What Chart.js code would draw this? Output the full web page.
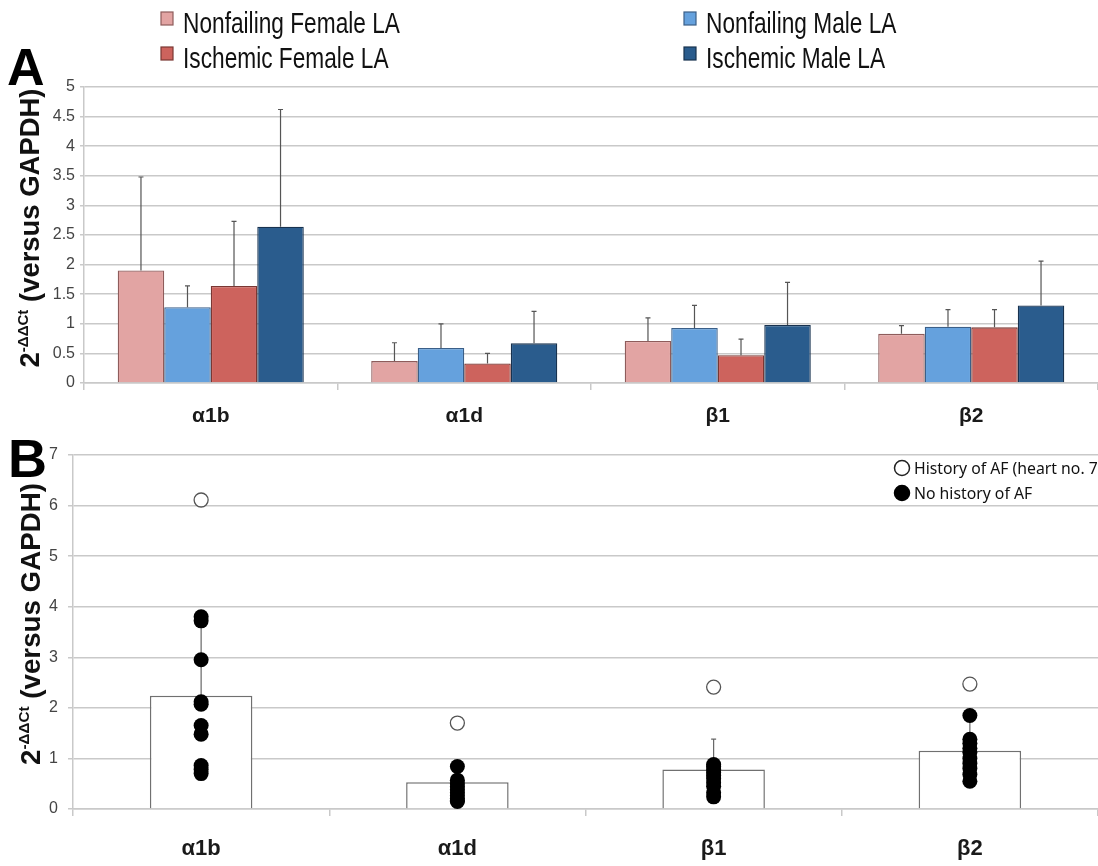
<!DOCTYPE html>
<html><head><meta charset="utf-8">
<script src="https://cdn.jsdelivr.net/npm/chart.js@4.4.0/dist/chart.umd.min.js"></script>
<style>
html,body{margin:0;padding:0;background:#fff;width:1098px;height:866px;overflow:hidden}
.box{position:absolute;left:0;width:1098px}
</style></head><body>
<div class="box" style="top:0;height:430px"><canvas id="a"></canvas></div>
<div class="box" style="top:430px;height:436px"><canvas id="b"></canvas></div>
<script>
// ---------- DATA ----------
const categories = ['α1b', 'α1d', 'β1', 'β2'];
const seriesNames = ['Nonfailing Female LA', 'Nonfailing Male LA', 'Ischemic Female LA', 'Ischemic Male LA'];
const nfFemaleMean = [1.90, 0.37, 0.71, 0.83];
const nfFemaleSD   = [1.58, 0.31, 0.39, 0.14];
const nfMaleMean   = [1.28, 0.59, 0.93, 0.95];
const nfMaleSD     = [0.36, 0.41, 0.38, 0.29];
const isFemaleMean = [1.64, 0.33, 0.47, 0.94];
const isFemaleSD   = [1.09, 0.17, 0.27, 0.30];
const isMaleMean   = [2.64, 0.67, 0.98, 1.31];
const isMaleSD     = [1.98, 0.54, 0.72, 0.75];

const allMean = [2.24, 0.53, 0.78, 1.15];
const allSD   = [1.56, 0.30, 0.60, 0.65];
const afHistory = [6.11, 1.70, 2.41, 2.47];
const noAF_a1b = [3.80, 3.72, 2.95, 2.12, 2.07, 1.65, 1.48, 0.86, 0.78, 0.70];
const noAF_a1d = [0.84, 0.57, 0.50, 0.44, 0.38, 0.32, 0.26, 0.21, 0.17, 0.15];
const noAF_b1  = [0.88, 0.84, 0.78, 0.72, 0.66, 0.60, 0.52, 0.45, 0.32, 0.24];
const noAF_b2  = [1.85, 1.38, 1.30, 1.20, 1.12, 1.00, 0.90, 0.80, 0.68, 0.55];
const legendB = ['History of AF (heart no. 7)', 'No history of AF'];

// ---------- STYLE ----------
const fills   = ['#e2a4a3', '#65a1dd', '#cd635d', '#2a5c8d'];
const borders = ['#8e5c5b', '#3b5f88', '#7a3733', '#18324f'];
const GRID = '#c9c9c9';
const ARIAL = 'Arial,"Liberation Sans",sans-serif';

const errorBars = {
  id: 'errorBars',
  afterDatasetDraw(chart, args) {
    const ds = chart.data.datasets[args.index];
    if (!ds.errors) return;
    const ys = chart.scales.y, ctx = chart.ctx;
    ctx.save();
    ctx.strokeStyle = ds.errorColor || '#555';
    ctx.lineWidth = 1.2;
    args.meta.data.forEach((bar, i) => {
      const v = ds.data[i], e = ds.errors[i];
      const x = bar.x, y0 = ys.getPixelForValue(v), y1 = ys.getPixelForValue(v + e);
      ctx.beginPath();
      ctx.moveTo(x, y0); ctx.lineTo(x, y1);
      ctx.moveTo(x - 2.5, y1); ctx.lineTo(x + 2.5, y1);
      ctx.stroke();
    });
    ctx.restore();
  }
};

function yTitle(cx, cy, targetLen) {
  return { id: 'ytitle', afterDraw(chart) {
    const ctx = chart.ctx; ctx.save();
    const measure = (S) => {
      ctx.font = `bold ${S}px ${ARIAL}`;
      let w = ctx.measureText('2').width + ctx.measureText(' (versus GAPDH)').width;
      ctx.font = `bold ${S * 0.55}px ${ARIAL}`;
      return w + ctx.measureText('-ΔΔCt').width;
    };
    const S = 24 * targetLen / measure(24);
    const W = measure(S);
    ctx.translate(cx, cy); ctx.rotate(-Math.PI / 2);
    ctx.fillStyle = '#111'; ctx.textBaseline = 'alphabetic'; ctx.textAlign = 'left';
    let x = -W / 2; const base = S * 0.36;
    ctx.font = `bold ${S}px ${ARIAL}`; ctx.fillText('2', x, base); x += ctx.measureText('2').width;
    ctx.font = `bold ${S * 0.55}px ${ARIAL}`; ctx.fillText('-ΔΔCt', x, base - S * 0.38); x += ctx.measureText('-ΔΔCt').width;
    ctx.font = `bold ${S}px ${ARIAL}`; ctx.fillText(' (versus GAPDH)', x, base);
    ctx.restore();
  }};
}

function panelLabel(txt, x, y, size) {
  return { id: 'panel' + txt, afterDraw(chart) {
    const ctx = chart.ctx; ctx.save();
    ctx.font = `bold ${size}px ${ARIAL}`; ctx.fillStyle = '#000';
    ctx.textBaseline = 'alphabetic'; ctx.textAlign = 'left';
    ctx.fillText(txt, x, y); ctx.restore();
  }};
}

const legendA = { id: 'legendA', afterDraw(chart) {
  const ctx = chart.ctx; ctx.save();
  const pos = [[161, 33], [684, 33], [161, 68], [684, 68]];
  ctx.font = `29px ${ARIAL}`;
  const k = 217 / ctx.measureText(seriesNames[0]).width;
  ctx.textBaseline = 'alphabetic'; ctx.textAlign = 'left';
  chart.data.datasets.forEach((ds, i) => {
    const [x, y] = pos[i];
    ctx.fillStyle = ds.backgroundColor; ctx.strokeStyle = ds.borderColor; ctx.lineWidth = 1.2;
    ctx.fillRect(x, y - 21, 12, 13); ctx.strokeRect(x, y - 21, 12, 13);
    ctx.save();
    ctx.translate(x + 22, y); ctx.scale(k, 1);
    ctx.fillStyle = '#111';
    ctx.fillText(ds.label, 0, 0);
    ctx.restore();
  });
  ctx.restore();
}};

const legendBPlugin = { id: 'legendB', afterDraw(chart) {
  const ctx = chart.ctx; ctx.save();
  const fam = '"Noto Sans","Open Sans",sans-serif';
  ctx.font = `18px ${fam}`;
  const size = 18 * 184 / ctx.measureText('History of AF (heart no. 7').width;
  ctx.font = `${size}px ${fam}`;
  ctx.textBaseline = 'middle'; ctx.textAlign = 'left';
  const rows = [[38, false], [63, true]];
  rows.forEach(([y, filled], i) => {
    ctx.beginPath(); ctx.arc(902, y, 7.5, 0, Math.PI * 2);
    ctx.fillStyle = filled ? '#000' : '#fff'; ctx.fill();
    ctx.lineWidth = 1.5; ctx.strokeStyle = filled ? '#000' : '#222'; ctx.stroke();
    ctx.fillStyle = '#111';
    ctx.fillText(legendB[i], 914, y + 1);
  });
  ctx.restore();
}};

const plainNum = (v) => String(Math.round(v * 100) / 100);

// ---------- CHART A ----------
const meansA = [nfFemaleMean, nfMaleMean, isFemaleMean, isMaleMean];
const sdsA = [nfFemaleSD, nfMaleSD, isFemaleSD, isMaleSD];
new Chart(document.getElementById('a'), {
  type: 'bar',
  data: {
    labels: categories,
    datasets: seriesNames.map((n, i) => ({
      label: n, data: meansA[i], errors: sdsA[i],
      backgroundColor: fills[i], borderColor: borders[i], borderWidth: 1.3,
      categoryPercentage: 0.734, barPercentage: 1, errorColor: '#555'
    }))
  },
  options: {
    responsive: true, maintainAspectRatio: false, animation: false,
    layout: { autoPadding: false, padding: { top: 87, left: 0, right: 0, bottom: 0 } },
    plugins: { legend: { display: false }, tooltip: { enabled: false } },
    scales: {
      x: {
        grid: { display: true, drawOnChartArea: false, tickLength: 7, color: GRID, lineWidth: 1.5 },
        border: { display: true, color: GRID, width: 1.5 },
        ticks: { font: { family: ARIAL, size: 21, weight: 'bold' }, color: '#1a1a1a', padding: 14 },
        afterFit(s) { s.height = 47; }
      },
      y: {
        min: 0, max: 5,
        ticks: { stepSize: 0.5, font: { family: ARIAL, size: 16 }, color: '#444', padding: 5, callback: plainNum },
        grid: { color: GRID, lineWidth: 1.5, tickLength: 4 },
        border: { display: true, color: GRID, width: 1.5 },
        afterFit(s) { s.width = 84; }
      }
    }
  },
  plugins: [errorBars, yTitle(29, 228, 279), panelLabel('A', 7, 85, 52), legendA]
});

// ---------- CHART B ----------
const noAF = [noAF_a1b, noAF_a1d, noAF_b1, noAF_b2];
const noAFPoints = [];
noAF.forEach((arr, i) => arr.forEach(v => noAFPoints.push({ x: categories[i], y: v })));
new Chart(document.getElementById('b'), {
  type: 'bar',
  data: {
    labels: categories,
    datasets: [
      { type: 'line', label: legendB[0], data: categories.map((c, i) => ({ x: c, y: afHistory[i] })),
        showLine: false, pointRadius: 7, pointBackgroundColor: '#fff', pointBorderColor: '#555', pointBorderWidth: 1.3, order: 0 },
      { type: 'line', label: legendB[1], data: noAFPoints,
        showLine: false, pointRadius: 7.5, pointBackgroundColor: '#000', pointBorderColor: '#000', pointBorderWidth: 0, order: 1 },
      { type: 'bar', label: 'Mean', data: allMean, errors: allSD, errorColor: '#666',
        backgroundColor: '#fff', borderColor: '#707070', borderWidth: 1.5,
        barPercentage: 0.4, categoryPercentage: 1, order: 2 }
    ]
  },
  options: {
    responsive: true, maintainAspectRatio: false, animation: false,
    layout: { autoPadding: false, padding: { top: 25, left: 0, right: 0, bottom: 0 } },
    plugins: { legend: { display: false }, tooltip: { enabled: false } },
    scales: {
      x: {
        offset: true,
        grid: { display: true, offset: true, drawOnChartArea: false, tickLength: 7, color: GRID, lineWidth: 1.5 },
        border: { display: true, color: GRID, width: 1.5 },
        ticks: { font: { family: ARIAL, size: 22, weight: 'bold' }, color: '#1a1a1a', padding: 20 },
        afterFit(s) { s.height = 57; }
      },
      y: {
        min: 0, max: 7,
        ticks: { stepSize: 1, font: { family: ARIAL, size: 16 }, color: '#444', padding: 10, callback: plainNum },
        grid: { color: GRID, lineWidth: 1.5, tickLength: 5 },
        border: { display: true, color: GRID, width: 1.5 },
        afterFit(s) { s.width = 73; }
      }
    }
  },
  plugins: [errorBars, yTitle(30, 194, 282), panelLabel('B', 8, 47, 54), legendBPlugin]
});
</script>
</body></html>
